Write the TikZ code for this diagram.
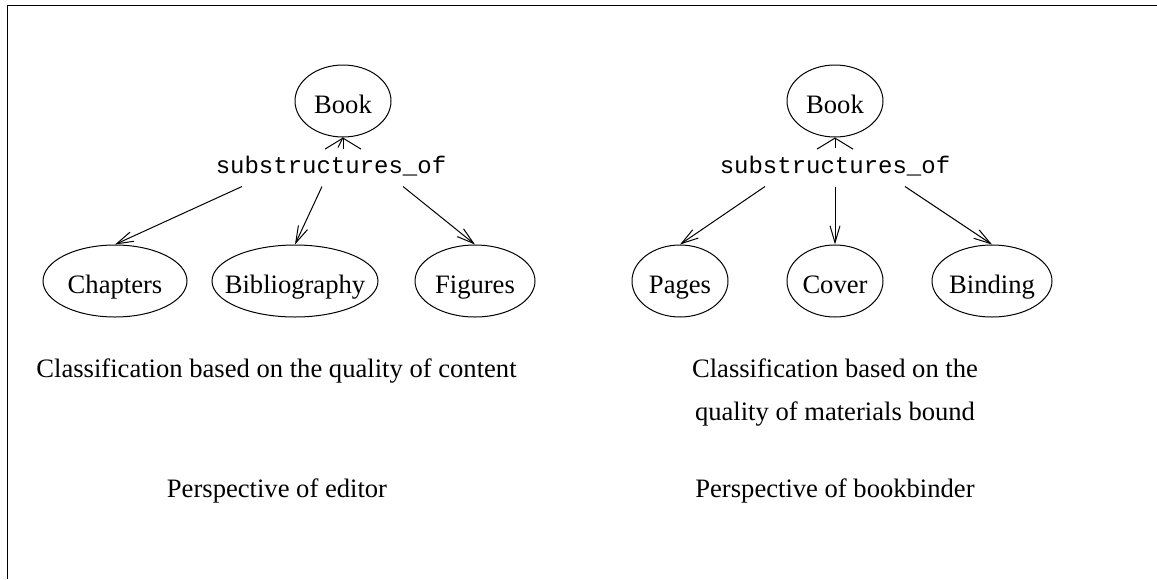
\documentclass[tikz,border=0pt]{standalone}
\usepackage{fontspec}
\setmainfont{Liberation Serif}
\setmonofont{Liberation Mono}
\usetikzlibrary{shapes.geometric,arrows.meta}
\begin{document}
\begin{tikzpicture}[x=1pt,y=-1pt,line width=1pt,
  ell/.style={draw,ellipse,inner sep=0pt,minimum height=72pt,text height=24pt,text depth=0pt,
    font=\fontsize{26.6pt}{32pt}\selectfont},
  rel/.style={inner sep=0pt,text height=25pt,text depth=13pt,anchor=base,
    font=\fontsize{24pt}{28pt}\selectfont\ttfamily},
  captext/.style={inner sep=0pt,align=center,font=\fontsize{26.6pt}{43pt}\selectfont},
  down/.style={-{Straight Barb[length=17pt,width=10pt]}},
  up/.style={-{Straight Barb[length=11pt,width=36pt]}}]
\useasboundingbox (0,0) rectangle (1157,579);
\draw (7,579) -- (7,5) -- (1157,5);
% left tree
\node[ell,minimum width=96pt] (bookL) at (343,101) {\makebox[0pt]{Book}};
\node[rel] (relL) at (331,173) {substructures\_of};
\node[ell,minimum width=144pt] (chap) at (115,281) {\makebox[0pt]{Chapters}};
\node[ell,minimum width=166pt] (bib) at (295,281) {\makebox[0pt]{Bibliography}};
\node[ell,minimum width=120pt] (fig) at (475,281) {\makebox[0pt]{Figures}};
\draw ([xshift=7pt]relL.north) -- (bookL.south);
\draw[up] ([yshift=-11pt]bookL.south) -- (bookL.south);
\draw[down] ([xshift=-89pt]relL.south) -- (chap.north);
\draw[down] ([xshift=-9pt]relL.south) -- (bib.north);
\draw[down] ([xshift=72pt]relL.south) -- (fig.north);
% right tree
\node[ell,minimum width=96pt] (bookR) at (835,101) {\makebox[0pt]{Book}};
\node[rel] (relR) at (835,173) {substructures\_of};
\node[ell,minimum width=96pt] (pages) at (680,281) {\makebox[0pt]{Pages}};
\node[ell,minimum width=96pt] (cover) at (835,281) {\makebox[0pt]{Cover}};
\node[ell,minimum width=120pt] (bind) at (992,281) {\makebox[0pt]{Binding}};
\draw[up] (relR.north) -- (bookR.south);
\draw[down] ([xshift=-70pt]relR.south) -- (pages.north);
\draw[down] (relR.south) -- (cover.north);
\draw[down] ([xshift=70pt]relR.south) -- (bind.north);
% captions
\node[captext,anchor=base] (capL) at (276.5,377) {Classification based on the quality of content};
\node[captext] (capR) at (835,392.3) {Classification based on the\\quality of materials bound};
\node[captext,anchor=base] (perL) at (277,497) {Perspective of editor};
\node[captext,anchor=base] (perR) at (835,497) {Perspective of bookbinder};
\end{tikzpicture}
\end{document}
